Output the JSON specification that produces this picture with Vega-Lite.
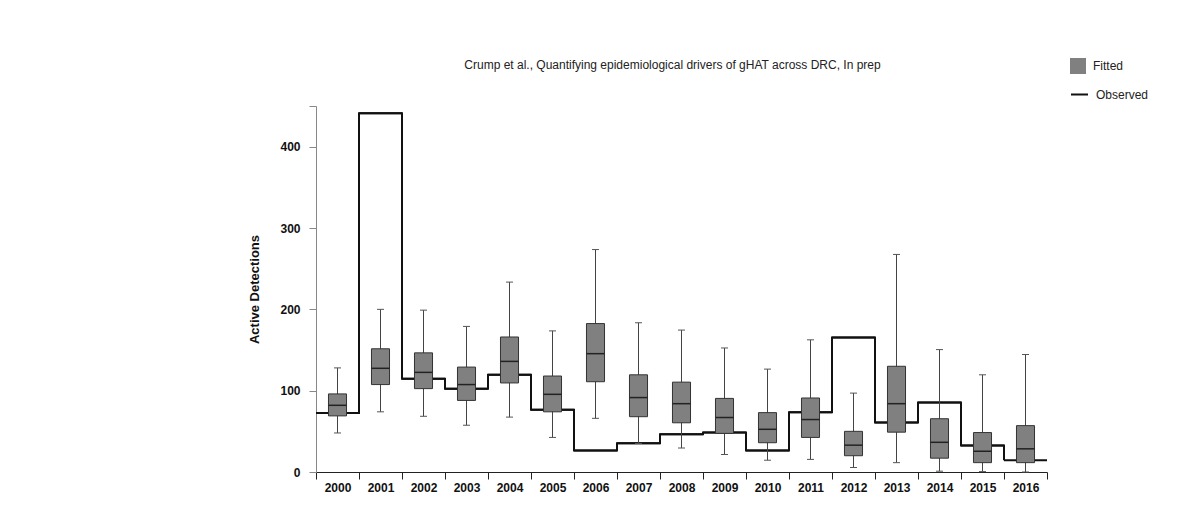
{
  "$schema": "https://vega.github.io/schema/vega-lite/v6.json",
  "width": 731,
  "height": 366,
  "autosize": {"type": "none"},
  "padding": {"left": 316, "top": 106, "right": 137, "bottom": 46},
  "background": "white",
  "config": {"view": {"stroke": null}, "font": "Liberation Sans"},
  "title": {
    "text": "Crump et al., Quantifying epidemiological drivers of gHAT across DRC, In prep",
    "fontSize": 12, "fontWeight": "normal", "color": "#222", "frame": "group",
    "anchor": "middle", "offset": -14, "dx": -9, "font": "Liberation Sans"
  },
  "data": {"values": [
    {"year": "2000", "lo": 48, "q1": 69, "med": 82, "q3": 96, "hi": 128, "obs": 72.5},
    {"year": "2001", "lo": 74, "q1": 107.5, "med": 127.5, "q3": 151.5, "hi": 200, "obs": 441},
    {"year": "2002", "lo": 68.5, "q1": 102.5, "med": 122.5, "q3": 146.5, "hi": 199, "obs": 114.5},
    {"year": "2003", "lo": 57.5, "q1": 88, "med": 107.5, "q3": 129, "hi": 179, "obs": 102.5},
    {"year": "2004", "lo": 67.5, "q1": 109.5, "med": 136, "q3": 166, "hi": 233.5, "obs": 119.5},
    {"year": "2005", "lo": 42.5, "q1": 74, "med": 95.5, "q3": 118, "hi": 173.5, "obs": 76.5},
    {"year": "2006", "lo": 66, "q1": 111, "med": 145.5, "q3": 182.5, "hi": 273.5, "obs": 26.5},
    {"year": "2007", "lo": 35, "q1": 68, "med": 91.5, "q3": 119.5, "hi": 183.5, "obs": 35.5},
    {"year": "2008", "lo": 29.5, "q1": 60.5, "med": 84, "q3": 110.5, "hi": 174.5, "obs": 46.5},
    {"year": "2009", "lo": 21.5, "q1": 47.5, "med": 67, "q3": 90.5, "hi": 152.5, "obs": 48.5},
    {"year": "2010", "lo": 14.5, "q1": 36, "med": 52.5, "q3": 73, "hi": 126.5, "obs": 26.5},
    {"year": "2011", "lo": 15.5, "q1": 42.5, "med": 64.5, "q3": 91, "hi": 162.5, "obs": 73.5},
    {"year": "2012", "lo": 5.5, "q1": 20, "med": 33, "q3": 50, "hi": 97, "obs": 165.5},
    {"year": "2013", "lo": 11.5, "q1": 49, "med": 84, "q3": 130, "hi": 267.5, "obs": 61},
    {"year": "2014", "lo": 1, "q1": 17, "med": 36.5, "q3": 65.5, "hi": 150.5, "obs": 85.5},
    {"year": "2015", "lo": 0.5, "q1": 11.5, "med": 25.5, "q3": 48.5, "hi": 119.5, "obs": 32.5},
    {"year": "2016", "lo": 0, "q1": 11.5, "med": 28.5, "q3": 57, "hi": 144.5, "obs": 14.5}
  ]},
  "encoding": {
    "x": {
      "field": "year", "type": "ordinal",
      "scale": {"paddingInner": 0, "paddingOuter": 0},
      "axis": {
        "title": null, "labelAngle": 0, "tickBand": "extent", "tickSize": 7,
        "domainColor": "#222", "tickColor": "#222", "labelFontWeight": "bold",
        "labelFontSize": 12, "labelPadding": 3, "labelColor": "#111", "grid": false,
        "labelFont": "Liberation Sans"
      }
    }
  },
  "layer": [
    {
      "mark": {"type": "line", "interpolate": "step-after", "strokeWidth": 2, "strokeJoin": "miter"},
      "encoding": {
        "x": {"field": "year", "type": "ordinal", "bandPosition": 0},
        "y": {
          "field": "obs", "type": "quantitative", "title": "Active Detections",
          "scale": {"domain": [0, 450], "nice": false, "zero": true},
          "axis": {
            "values": [0, 100, 200, 300, 400, 450],
            "labelExpr": "datum.value == 450 ? '' : datum.label",
            "domainColor": "#888", "tickColor": "#888", "tickSize": 7, "labelPadding": 9,
            "labelFont": "Liberation Sans", "labelFontWeight": "bold", "labelFontSize": 12,
            "labelColor": "#111", "titleFont": "Liberation Sans", "titleFontSize": 13,
            "titleFontWeight": "bold", "titleColor": "#111", "titlePadding": 18, "grid": false,
            "format": "d"
          }
        },
        "stroke": {
          "datum": "Observed", "type": "nominal",
          "scale": {"range": ["#111111"]},
          "legend": {
            "title": null, "orient": "none", "legendX": 754, "legendY": -21,
            "symbolType": "stroke", "symbolSize": 289, "symbolStrokeWidth": 2,
            "labelFontSize": 12, "labelOffset": 7, "labelColor": "#222", "padding": 0,
            "labelFont": "Liberation Sans"
          }
        }
      }
    },
    {
      "mark": {"type": "bar", "width": {"band": 1}, "fill": "transparent", "strokeWidth": 2},
      "encoding": {
        "y": {"field": "obs", "type": "quantitative", "title": "Active Detections"},
        "y2": {"field": "obs"},
        "stroke": {"datum": "Observed", "type": "nominal"}
      }
    },
    {
      "mark": {"type": "rule", "color": "#444", "strokeWidth": 1},
      "encoding": {
        "y": {"field": "lo", "type": "quantitative", "title": "Active Detections"},
        "y2": {"field": "hi"}
      }
    },
    {
      "mark": {"type": "bar", "width": {"band": 0.42}, "stroke": "#333", "strokeWidth": 1},
      "encoding": {
        "y": {"field": "q1", "type": "quantitative", "title": "Active Detections"},
        "y2": {"field": "q3"},
        "fill": {
          "datum": "Fitted", "type": "nominal",
          "scale": {"range": ["#808080"]},
          "legend": {
            "title": null, "orient": "none", "legendX": 754, "legendY": -48,
            "symbolType": "square", "symbolSize": 256, "symbolStrokeWidth": 0,
            "symbolOpacity": 1,
            "labelFontSize": 12, "labelOffset": 7, "labelColor": "#222", "padding": 0,
            "labelFont": "Liberation Sans"
          }
        }
      }
    },
    {
      "mark": {"type": "tick", "size": 18, "thickness": 1.5, "color": "#222", "opacity": 1},
      "encoding": {"y": {"field": "med", "type": "quantitative", "title": "Active Detections"}}
    },
    {
      "mark": {"type": "tick", "size": 7, "thickness": 1, "color": "#555", "opacity": 1},
      "encoding": {"y": {"field": "lo", "type": "quantitative", "title": "Active Detections"}}
    },
    {
      "mark": {"type": "tick", "size": 7, "thickness": 1, "color": "#555", "opacity": 1},
      "encoding": {"y": {"field": "hi", "type": "quantitative", "title": "Active Detections"}}
    }
  ]
}
